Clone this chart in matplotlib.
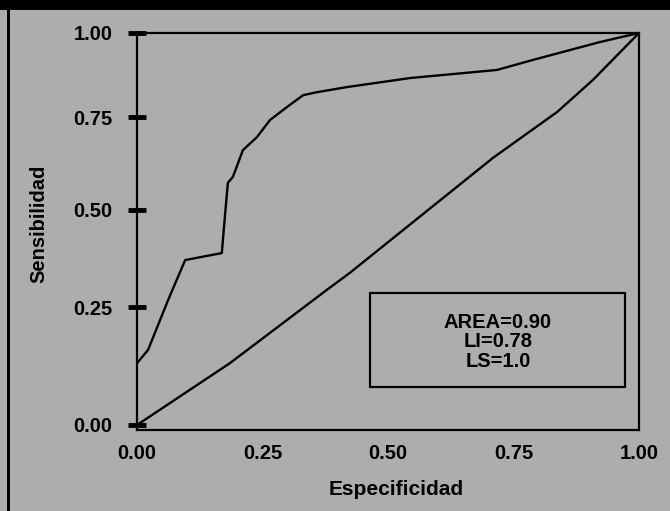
from __future__ import annotations

import numpy as np
import matplotlib
matplotlib.use("Agg")
import matplotlib.pyplot as plt
from matplotlib.patches import Rectangle

# Curva ROC (especificidad vs sensibilidad)
ESPEC_ROC = [0.0, 0.022, 0.062, 0.096, 0.169, 0.175, 0.181, 0.191, 0.211, 0.239,
             0.265, 0.299, 0.331, 0.359, 0.418, 0.544, 0.717, 0.789, 0.922, 1.0]
SENS_ROC = [0.131, 0.159, 0.268, 0.371, 0.389, 0.482, 0.573, 0.589, 0.661, 0.696,
            0.742, 0.780, 0.815, 0.824, 0.839, 0.866, 0.890, 0.920, 0.973, 1.0]

# Línea de referencia (azar)
DIAG_X = [0.0, 0.185, 0.378, 0.424, 0.709, 0.837, 0.908, 1.0]
DIAG_Y = [0.0, 0.131, 0.294, 0.338, 0.640, 0.765, 0.860, 1.0]

TICKS = [0.0, 0.25, 0.50, 0.75, 1.00]
TICK_LABELS = ["0.00", "0.25", "0.50", "0.75", "1.00"]

RESUMEN = ["AREA=0.90", "LI=0.78", "LS=1.0"]

X_LABEL = "Especificidad"
Y_LABEL = "Sensibilidad"

FONDO = "#adadad"
FUENTE = "Liberation Sans"

# El eje Y del original no es lineal (escaneo): escala por tramos
Y_KNOTS = [-1.0, 0.0, 0.25, 0.50, 0.75, 1.0, 2.0]
Y_FRAC = [-1.176, 0.0126, 0.3098, 0.5542, 0.7884, 1.0, 1.846]


def fwd(y):
    return np.interp(y, Y_KNOTS, Y_FRAC)


def inv(f):
    return np.interp(f, Y_FRAC, Y_KNOTS)


def main() -> None:
    fig = plt.figure(figsize=(6.7, 5.11), dpi=100, facecolor=FONDO)
    ax = fig.add_axes([137 / 670, 1 - 430 / 511, 502 / 670, 397 / 511])
    ax.set_facecolor(FONDO)

    # marco negro del escaneo (franja superior y borde izquierdo)
    fig.add_artist(Rectangle((0, 1 - 10 / 511), 1, 10 / 511, transform=fig.transFigure,
                             facecolor="black", edgecolor="none"))
    fig.add_artist(Rectangle((7 / 670, 0), 3 / 670, 1, transform=fig.transFigure,
                             facecolor="black", edgecolor="none"))

    ax.set_yscale("function", functions=(fwd, inv))

    ax.plot(ESPEC_ROC, SENS_ROC, color="black", lw=1.7, solid_joinstyle="round")
    ax.plot(DIAG_X, DIAG_Y, color="black", lw=1.7)

    ax.set_xlim(0, 1)
    ax.set_ylim(inv(0.0), 1.0)

    ax.set_xticks(TICKS)
    ax.set_xticklabels(TICK_LABELS)
    ax.set_yticks(TICKS)
    ax.set_yticklabels(TICK_LABELS)
    ax.yaxis.set_minor_locator(matplotlib.ticker.NullLocator())

    ax.tick_params(axis="x", length=0, pad=10)
    ax.tick_params(axis="y", direction="inout", length=13, width=3.5, pad=11)
    for lbl in ax.get_xticklabels() + ax.get_yticklabels():
        lbl.set_fontfamily(FUENTE)
        lbl.set_fontweight("bold")
        lbl.set_fontsize(14.5)

    for s in ax.spines.values():
        s.set_linewidth(1.6)

    ax.set_xlabel(X_LABEL, family=FUENTE, fontweight="bold", fontsize=15)
    ax.set_ylabel(Y_LABEL, family=FUENTE, fontweight="bold", fontsize=14.5)
    ax.xaxis.set_label_coords((396 - 137) / 502, (430 - 480) / 397)
    ax.yaxis.set_label_coords((48 - 137) / 502, (430 - 224) / 397)

    # recuadro con el área y los límites
    ax.add_patch(Rectangle((0.464, 0.108), 0.508, 0.237, transform=ax.transAxes,
                           fill=False, edgecolor="black", lw=1.6))
    ax.text(0.719, 0.222, "\n".join(RESUMEN), transform=ax.transAxes,
            ha="center", va="center", family=FUENTE, fontweight="bold",
            fontsize=14.5, linespacing=1.05)

    fig.savefig("out.png", dpi=100, facecolor=FONDO)
    plt.close(fig)


if __name__ == "__main__":
    main()
